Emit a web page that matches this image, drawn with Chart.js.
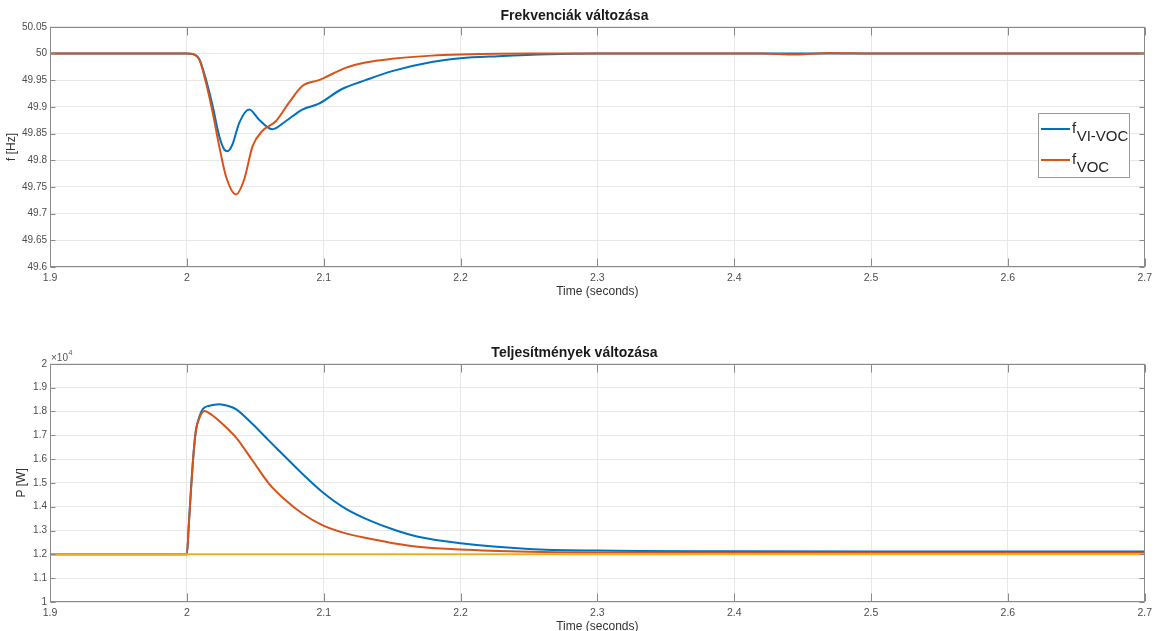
<!DOCTYPE html>
<html>
<head>
<meta charset="utf-8">
<script src="https://cdn.jsdelivr.net/npm/chart.js@4.4.0/dist/chart.umd.min.js"></script>
<style>
html, body { margin: 0; padding: 0; background: #fff; overflow: hidden; }
#wrap { position: relative; width: 1157px; height: 631px; }
canvas { position: absolute; left: 0; }
</style>
</head>
<body>
<div id="wrap">
  <canvas id="grafica1" width="1157" height="310" style="top:0px"></canvas>
  <canvas id="grafica2" width="1157" height="308" style="top:337px"></canvas>
</div>
<script>
// --- frekvencia (felső ábra) ---
const timeFViVoc = [1.9, 2.0, 2.0043, 2.0092, 2.0140, 2.0189, 2.0237, 2.0274, 2.0298, 2.0334, 2.0383, 2.0456, 2.0528,
    2.0625, 2.0722, 2.0844, 2.0965, 2.113, 2.1305, 2.15, 2.179, 2.2, 2.2275, 2.264, 2.3, 2.7];
const fViVoc = [50, 50, 49.999, 49.989, 49.951, 49.901, 49.845, 49.820, 49.817, 49.830, 49.870, 49.895, 49.876,
    49.858, 49.873, 49.895, 49.906, 49.933, 49.950, 49.967, 49.984, 49.991, 49.995, 49.9988, 50, 50];
const timeFVoc = [1.9, 2.0, 2.0043, 2.0092, 2.0140, 2.0189, 2.0237, 2.0286, 2.0359, 2.0419, 2.048, 2.0552, 2.065,
    2.0747, 2.0844, 2.0965, 2.1, 2.116, 2.1305, 2.15, 2.179, 2.2, 2.25, 2.3, 2.42, 2.445, 2.47, 2.5, 2.7];
const fVoc = [50, 50, 49.999, 49.988, 49.945, 49.889, 49.826, 49.770, 49.736, 49.764, 49.826, 49.855, 49.873,
    49.908, 49.939, 49.950, 49.954, 49.973, 49.983, 49.990, 49.996, 49.998, 50, 50, 50, 49.998, 50.001, 50, 50];

// --- teljesítmény (alsó ábra) ---
const timePViVoc = [1.9, 2.0, 2.0015, 2.003, 2.005, 2.0066, 2.009, 2.0116, 2.0165, 2.0237, 2.0298, 2.0359, 2.048,
    2.060, 2.0722, 2.0844, 2.099, 2.116, 2.133, 2.152, 2.169, 2.2, 2.25, 2.3, 2.4, 2.5, 2.7];
const pViVoc = [12000, 12000, 13300, 14690, 16300, 17190, 17750, 18100, 18240, 18305, 18240, 18100, 17470,
    16775, 16080, 15385, 14620, 13920, 13435, 13020, 12740, 12470, 12230, 12160, 12130, 12120, 12120];
const timePVoc = [1.9, 2.0, 2.0015, 2.003, 2.005, 2.0066, 2.009, 2.0128, 2.0188, 2.0237, 2.0298, 2.0359, 2.048,
    2.060, 2.0722, 2.0844, 2.099, 2.116, 2.133, 2.152, 2.169, 2.2, 2.25, 2.3, 2.4, 2.5, 2.7];
const pVoc = [12000, 12000, 13300, 14690, 16300, 17190, 17700, 18020, 17830, 17600, 17270, 16910, 15940,
    14970, 14270, 13715, 13225, 12880, 12670, 12460, 12320, 12200, 12110, 12080, 12070, 12070, 12070];
const timePRef = [1.9, 2.7];
const pRef = [12000, 12000];

const xTickStep = 0.1;
const labelsF = ['f VI-VOC', 'f VOC'];
const labelsP = ['P VI-VOC', 'P VOC', 'P REF'];

const BLUE = '#0072BD';
const ORANGE = '#D95319';
const YELLOW = '#EDB120';

Chart.defaults.font.family = "'Liberation Sans', Arial, sans-serif";
Chart.defaults.color = '#4d4d4d';

function pts(xs, ys) {
    return xs.map((x, i) => ({ x: x, y: ys[i] }));
}

// keret, befelé mutató osztások, kitevő és jelmagyarázat (MATLAB stílus)
const matlabPlugin = {
    id: 'matlab',
    afterDraw(chart, args, opts) {
        const { ctx, chartArea: a } = chart;
        const xs = chart.scales.x, ys = chart.scales.y;
        const L = Math.round(a.left) + 0.5, R = Math.round(a.right) - 0.5;
        const T = Math.round(a.top) + 0.5, B = Math.round(a.bottom) - 0.5;
        ctx.save();
        ctx.strokeStyle = '#8a8a8a';
        ctx.lineWidth = 1;
        ctx.strokeRect(L, T, R - L, B - T);
        ctx.beginPath();
        xs.ticks.forEach(t => {
            const px = Math.round(xs.getPixelForValue(t.value)) + 0.5;
            ctx.moveTo(px, B); ctx.lineTo(px, B - 8);
            ctx.moveTo(px, T); ctx.lineTo(px, T + 8);
        });
        ys.ticks.forEach(t => {
            const py = Math.round(ys.getPixelForValue(t.value)) + 0.5;
            ctx.moveTo(L, py); ctx.lineTo(L + 5, py);
            ctx.moveTo(R, py); ctx.lineTo(R - 5, py);
        });
        ctx.stroke();

        if (opts.exponent) {
            ctx.fillStyle = '#555';
            ctx.textBaseline = 'alphabetic';
            ctx.textAlign = 'left';
            ctx.font = "10px 'Liberation Sans', Arial";
            ctx.fillText('\u00d710', a.left + 1, a.top - 3);
            const w = ctx.measureText('\u00d710').width;
            ctx.font = "7px 'Liberation Sans', Arial";
            ctx.fillText(opts.exponent, a.left + 1 + w + 0.5, a.top - 9);
        }

        const lg = opts.legend;
        if (lg) {
            ctx.fillStyle = '#fff';
            ctx.fillRect(lg.x, lg.y, lg.w, lg.h);
            ctx.strokeStyle = '#9a9a9a';
            ctx.strokeRect(lg.x + 0.5, lg.y + 0.5, lg.w, lg.h);
            chart.data.datasets.forEach((ds, i) => {
                const ry = lg.y + lg.rows[i];
                ctx.strokeStyle = ds.borderColor;
                ctx.lineWidth = 2;
                ctx.beginPath();
                ctx.moveTo(lg.x + lg.lineX0, ry);
                ctx.lineTo(lg.x + lg.lineX1, ry);
                ctx.stroke();
                const parts = ds.label.split(' ');
                ctx.fillStyle = '#262626';
                ctx.textAlign = 'left';
                ctx.textBaseline = 'alphabetic';
                ctx.font = lg.mainSize + "px 'Liberation Sans', Arial";
                const tx = lg.x + lg.textX;
                ctx.fillText(parts[0], tx, ry + 4);
                const w = ctx.measureText(parts[0]).width;
                ctx.font = lg.subSize + "px 'Liberation Sans', Arial";
                ctx.fillText(parts[1], tx + w + 0.5, ry + 12);
            });
        }
        ctx.restore();
    }
};

function makeChart(canvas, cfg) {
    return new Chart(canvas, {
        type: 'line',
        data: { datasets: cfg.datasets },
        options: {
            responsive: false,
            animation: false,
            devicePixelRatio: 1,
            layout: { padding: { right: 8 } },
            elements: { point: { radius: 0 }, line: { borderWidth: 2, cubicInterpolationMode: 'monotone' } },
            plugins: {
                legend: { display: false },
                tooltip: { enabled: false },
                title: {
                    display: true,
                    text: cfg.title,
                    color: '#1a1a1a',
                    font: { size: 14, weight: 'bold' },
                    padding: { top: 8, bottom: 2 }
                },
                matlab: { legend: cfg.legend, exponent: cfg.exponent }
            },
            scales: {
                x: {
                    type: 'linear',
                    min: 1.9,
                    max: 2.7,
                    border: { display: false },
                    grid: { color: '#e8e8e8', drawTicks: false },
                    ticks: {
                        stepSize: xTickStep,
                        padding: 5,
                        maxRotation: 0,
                        font: { size: 10.5 },
                        callback: v => String(parseFloat(v.toFixed(1)))
                    },
                    title: {
                        display: true,
                        text: 'Time (seconds)',
                        color: '#333',
                        font: { size: 12 },
                        padding: { top: 0, bottom: cfg.xTitleBottom }
                    },
                    afterFit: s => { s.height = 43; }
                },
                y: {
                    min: cfg.yMin,
                    max: cfg.yMax,
                    border: { display: false },
                    grid: { color: '#e8e8e8', drawTicks: false },
                    ticks: {
                        stepSize: cfg.yStep,
                        padding: 3,
                        font: { size: 10 },
                        callback: cfg.yFmt
                    },
                    title: {
                        display: true,
                        text: cfg.yTitle,
                        color: '#333',
                        font: { size: 12 },
                        padding: { top: cfg.yTitleLeft, bottom: 0 }
                    },
                    afterFit: s => { s.width = 50; }
                }
            }
        },
        plugins: [matlabPlugin]
    });
}

function main() {
    makeChart(document.getElementById('grafica1'), {
        title: 'Frekvenciák változása',
        yTitle: 'f [Hz]',
        yMin: 49.6, yMax: 50.05, yStep: 0.05,
        yFmt: v => String(parseFloat(v.toFixed(2))),
        yTitleLeft: 4,
        xTitleBottom: 11,
        legend: { x: 1038, y: 113, w: 91, h: 64, rows: [16, 47], lineX0: 3, lineX1: 32, textX: 34, mainSize: 15, subSize: 15 },
        datasets: [
            { label: labelsF[0], data: pts(timeFViVoc, fViVoc), borderColor: BLUE, order: 2 },
            { label: labelsF[1], data: pts(timeFVoc, fVoc), borderColor: ORANGE, order: 1 }
        ]
    });

    makeChart(document.getElementById('grafica2'), {
        title: 'Teljesítmények változása',
        yTitle: 'P [W]',
        yMin: 10000, yMax: 20000, yStep: 1000,
        yFmt: v => String(parseFloat((v / 10000).toFixed(1))),
        yTitleLeft: 14,
        xTitleBottom: 11,
        exponent: '4',
        legend: { x: 1021, y: 413, w: 97, h: 94, rows: [17, 47, 78], lineX0: 2, lineX1: 32, textX: 34, mainSize: 17, subSize: 14 },
        datasets: [
            { label: labelsP[0], data: pts(timePViVoc, pViVoc), borderColor: BLUE, order: 3 },
            { label: labelsP[1], data: pts(timePVoc, pVoc), borderColor: ORANGE, order: 2 },
            { label: labelsP[2], data: pts(timePRef, pRef), borderColor: YELLOW, order: 1 }
        ]
    });
}

document.addEventListener('DOMContentLoaded', main);
</script>
</body>
</html>
